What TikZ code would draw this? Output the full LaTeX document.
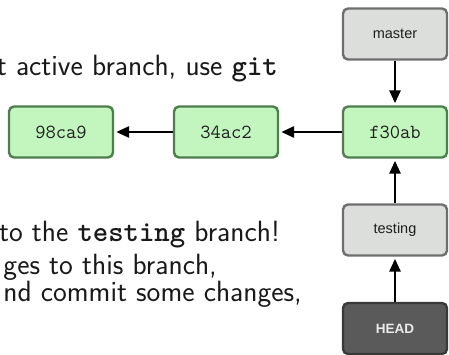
\documentclass[tikz,border=0pt]{standalone}
\usepackage{fontspec}
\newfontfamily\labfont{Liberation Sans}
\usetikzlibrary{arrows.meta}
\definecolor{cfill}{HTML}{C3F5BF}
\definecolor{cline}{HTML}{4E7D4E}
\definecolor{bfill}{HTML}{DCDEDC}
\definecolor{bline}{HTML}{6E6E6E}
\definecolor{hfill}{HTML}{5A5A5A}
\definecolor{hline}{HTML}{3A3A3A}
\definecolor{ctext}{HTML}{1E1E1E}
\tikzset{
  boxbase/.style={rounded corners=5pt, line width=2.4pt, minimum width=104pt, minimum height=51pt, inner sep=0pt},
  commit/.style={boxbase, draw=cline, fill=cfill, text=ctext, font=\ttfamily\fontsize{20}{20}\selectfont},
  branch/.style={boxbase, draw=bline, fill=bfill, text=ctext, font=\labfont\fontsize{14.5}{15}\selectfont},
  headbox/.style={boxbase, draw=hline, fill=hfill, text=white!92!black, font=\labfont\bfseries\fontsize{13.5}{14}\selectfont},
  ptr/.style={line width=2.8pt, -{Triangle[length=13pt,width=11pt]}, shorten >=2pt},
  slide/.style={anchor=base east, inner sep=0pt, text=black!90, font=\sffamily\fontsize{29.3}{33}\selectfont}
}
\begin{document}
\begin{tikzpicture}[x=1pt,y=-1pt]
\useasboundingbox (0,0) rectangle (449,355);
% slide text (clipped at the left)
\node[slide] (t1) at (278,75.5) {t active branch, use {\ttfamily\bfseries git}};
\node[slide] (t2) at (280,241.5) {to the {\ttfamily\bfseries testing} branch!};
\node[slide] (t3) at (217,274) {ges to this branch,};
\node[slide] (t4) at (302,301.5) {nd commit some changes,};
% diagram
\node[commit] (c1) at (61,132) {98ca9};
\node[commit] (c2) at (226,132) {34ac2};
\node[commit] (c3) at (395,132) {f30ab};
\node[branch] (master) at (395,34) {master};
\node[branch] (testing) at (395,230) {testing};
\node[headbox] (head) at (395,328.5) {HEAD};
\draw[ptr] (c2) -- (c1);
\draw[ptr] (c3) -- (c2);
\draw[ptr] (master) -- (c3);
\draw[ptr] (testing) -- (c3);
\draw[ptr] (head) -- (testing);
\end{tikzpicture}
\end{document}
